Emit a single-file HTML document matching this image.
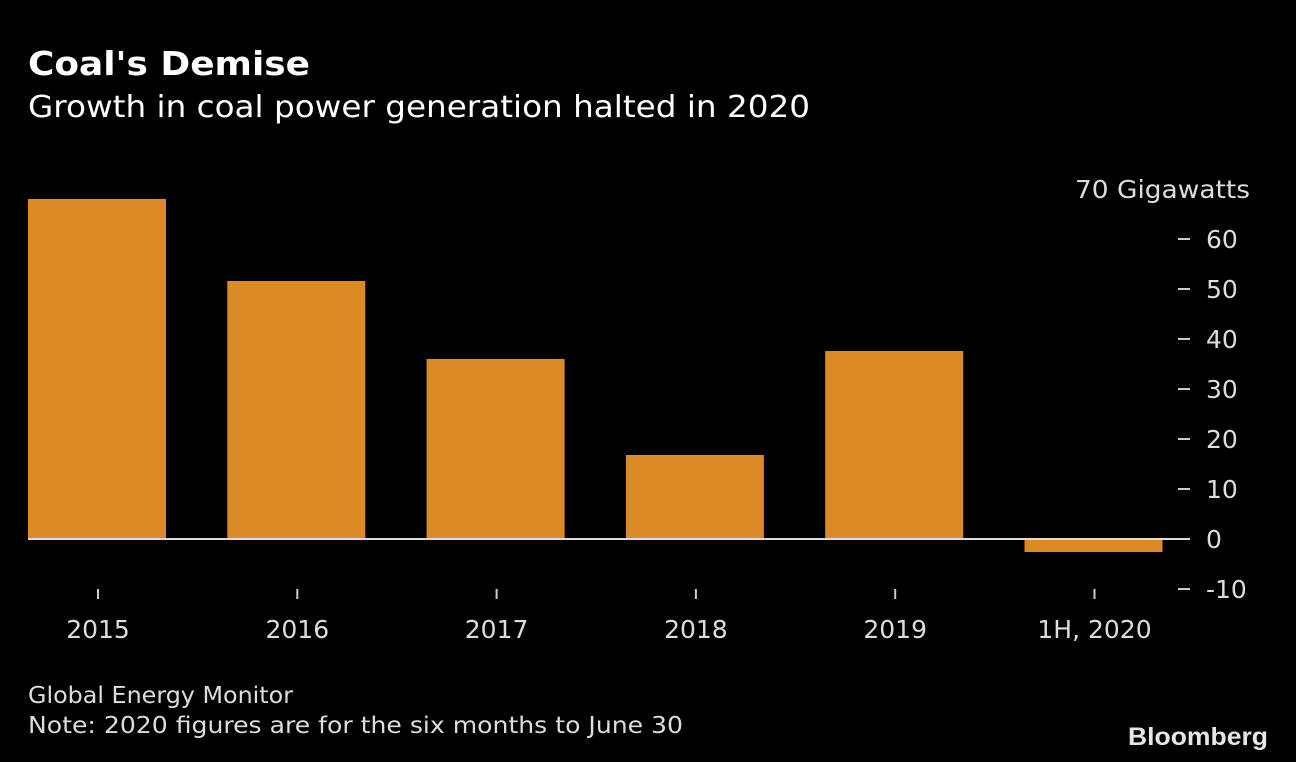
<!DOCTYPE html>
<html><head><meta charset="utf-8"><style>
html,body{margin:0;padding:0;background:#000;width:1296px;height:762px;overflow:hidden}
svg{display:block}
text{font-family:"DejaVu Sans","Liberation Sans",sans-serif}
</style></head><body>
<svg id="chart" width="1296" height="762" xmlns="http://www.w3.org/2000/svg">
<text x="28" y="75" fill="#fff" font-size="33" font-weight="bold" textLength="282" lengthAdjust="spacingAndGlyphs">Coal's Demise</text>
<text x="28" y="117" fill="#fff" font-size="30" textLength="782" lengthAdjust="spacingAndGlyphs">Growth in coal power generation halted in 2020</text>
<g id="bars"></g>
<g id="yaxis"></g>
<g id="xaxis"></g>
<text x="28" y="703" fill="#ddd" font-size="23" textLength="265" lengthAdjust="spacingAndGlyphs">Global Energy Monitor</text>
<text x="28" y="733" fill="#ddd" font-size="23" textLength="655" lengthAdjust="spacingAndGlyphs">Note: 2020 figures are for the six months to June 30</text>
<text x="1128" y="745" fill="#e6e6e6" font-size="25" font-weight="bold" textLength="140" lengthAdjust="spacingAndGlyphs" style="font-family:'Liberation Sans',sans-serif">Bloomberg</text>
</svg>
<script>
const categories = ["2015","2016","2017","2018","2019","1H, 2020"];
const values = [68, 51.6, 36, 16.8, 37.6, -2.6];
const yTicks = [-10, 0, 10, 20, 30, 40, 50, 60, 70];
const NS = "http://www.w3.org/2000/svg";
function y(v){ return 539 - v * 5; }
function xCenter(i){ return 97 + i * 199.3; }
const barW = 138;
const bars = document.getElementById('bars');
const yaxis = document.getElementById('yaxis');
const xaxis = document.getElementById('xaxis');
function mk(tag, attrs, parent){ const e = document.createElementNS(NS, tag); for (const k in attrs) e.setAttribute(k, attrs[k]); parent.appendChild(e); return e; }
values.forEach((v, i) => {
  const r = mk('rect', {x: xCenter(i) - barW/2, y: Math.min(y(v), y(0)), width: barW, height: Math.abs(y(v) - y(0)), fill: '#DB8A25'}, bars);
  
  
  const t = mk('line', {x1: xCenter(i)+1, x2: xCenter(i)+1, y1: 589, y2: 599, stroke: '#ccc', 'stroke-width': 2}, xaxis);
  
  
  const l = mk('text', {x: xCenter(i)+1, y: 638, fill: '#ddd', 'font-size': 25, 'text-anchor': 'middle'}, xaxis);
  l.textContent = categories[i];
  
  
});
const zl = mk('line', {x1: 28, x2: 1190, y1: y(0), y2: y(0), stroke: '#ddd', 'stroke-width': 2}, yaxis);


yTicks.forEach(v => {
  if (v !== 0 && v !== 70) {
    const tk = mk('line', {x1: 1178, x2: 1190, y1: y(v), y2: y(v), stroke: '#ccc', 'stroke-width': 2}, yaxis);
    
    
  }
  const attrs = {x: v === 70 ? 1075 : 1206, y: y(v) + 9, fill: '#ddd', 'font-size': 25};
  if (v === 70) { attrs.textLength = 175; attrs.lengthAdjust = 'spacingAndGlyphs'; }
  const lb = mk('text', attrs, yaxis);
  lb.textContent = v === 70 ? '70 Gigawatts' : String(v);
  
  
});
</script>
</body></html>
